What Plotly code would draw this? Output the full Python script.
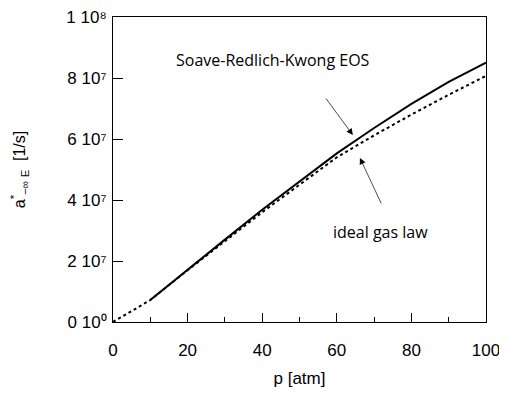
import plotly.graph_objects as go

# Data
p_srk = [10, 20, 30, 40, 50, 60, 70, 80, 90, 100]
a_srk = [0.072e8, 0.172e8, 0.270e8, 0.368e8, 0.462e8, 0.553e8, 0.636e8, 0.715e8, 0.787e8, 0.850e8]

p_ideal = [0, 5, 10, 20, 30, 40, 50, 60, 70, 80, 90, 100]
a_ideal = [0.0, 0.035e8, 0.072e8, 0.170e8, 0.266e8, 0.360e8, 0.450e8, 0.540e8, 0.612e8, 0.680e8, 0.745e8, 0.807e8]

y_tickvals = [0, 2e7, 4e7, 6e7, 8e7, 1e8]
y_ticktext = ["0 10⁰", "2 10⁷", "4 10⁷", "6 10⁷", "8 10⁷", "1 10⁸"]
x_tickvals = [0, 20, 40, 60, 80, 100]

fig = go.Figure()
fig.add_trace(go.Scatter(x=p_ideal, y=a_ideal, mode="lines",
                         line=dict(color="black", width=2, dash="dot"),
                         showlegend=False))
fig.add_trace(go.Scatter(x=p_srk, y=a_srk, mode="lines",
                         line=dict(color="black", width=2),
                         showlegend=False))

# the page body adds an 8px offset, so the figure is sized to fit the window
fig.update_layout(
    width=499, height=386,
    margin=dict(l=105, r=21, t=9, b=72),
    paper_bgcolor="white", plot_bgcolor="white",
    font=dict(family="Liberation Sans, Arial, sans-serif", size=17, color="black"),
    xaxis=dict(range=[0, 100], tickvals=x_tickvals, ticks="inside", ticklen=9,
               tickwidth=1, tickcolor="black", showline=True, linecolor="black",
               linewidth=1, mirror=True, showgrid=False, zeroline=False,
               automargin=False, ticklabelstandoff=13, ticklabeloverflow="allow",
               minor=dict(dtick=10, ticks="inside", ticklen=5, tickcolor="black"),
               title=dict(text="p [atm]", font=dict(size=17), standoff=12)),
    yaxis=dict(range=[0, 1e8], tickvals=y_tickvals, ticktext=y_ticktext,
               ticks="inside", ticklen=10, tickwidth=1, tickcolor="black",
               showline=True, linecolor="black", linewidth=1, mirror=True,
               showgrid=False, zeroline=False, automargin=False,
               ticklabeloverflow="allow", ticklabelstandoff=2,
               title=dict(text="a<sup>*</sup><sub>−∞ E</sub>  [1/s]",
                          font=dict(size=16), standoff=36)),
)

fig.add_annotation(x=42.8, y=0.86e8, xref="x", yref="y",
                   text="Soave-Redlich-Kwong EOS", showarrow=False,
                   font=dict(family="Open Sans, DejaVu Sans, sans-serif", size=16))
fig.add_annotation(x=64.3, y=0.613e8, ax=56.8, ay=0.738e8, axref="x", ayref="y",
                   xref="x", yref="y", text="", showarrow=True,
                   arrowhead=2, arrowsize=1.8, arrowwidth=0.7, arrowcolor="black")
fig.add_annotation(x=71.6, y=0.295e8, xref="x", yref="y",
                   text="ideal gas law", showarrow=False,
                   font=dict(family="Open Sans, DejaVu Sans, sans-serif", size=16))
fig.add_annotation(x=66.2, y=0.538e8, ax=72.1, ay=0.384e8, axref="x", ayref="y",
                   xref="x", yref="y", text="", showarrow=True,
                   arrowhead=2, arrowsize=1.8, arrowwidth=0.7, arrowcolor="black")

fig.write_html("out.html")
